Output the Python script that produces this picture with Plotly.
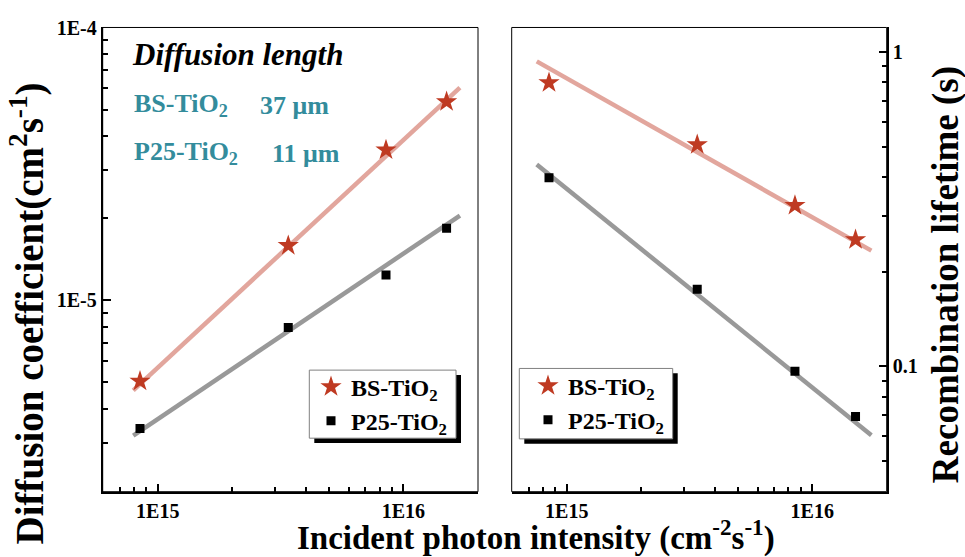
import plotly.graph_objects as go

W, H = 965, 557
FONT = "Liberation Serif"

# Incident photon intensity (cm^-2 s^-1)
intensity = [8.47e14, 3.40e15, 8.50e15, 1.50e16]

# Diffusion coefficient (cm^2 s^-1)
diff_bs = [5.05e-6, 1.59e-5, 3.57e-5, 5.36e-5]
diff_p25 = [3.39e-6, 7.95e-6, 1.24e-5, 1.84e-5]

# Recombination lifetime (s)
life_bs = [0.798, 0.507, 0.325, 0.253]
life_p25 = [0.398, 0.176, 0.0965, 0.0693]

# Power-law fit lines (end points)
fit_x_diff = [7.95e14, 1.70e16]
fit_diff_bs = [4.68e-6, 6.04e-5]
fit_diff_p25 = [3.19e-6, 2.05e-5]
fit_x_life = [7.55e14, 1.74e16]
fit_life_bs = [0.933, 0.2335]
fit_life_p25 = [0.4387, 0.0604]

series_names = ["BS-TiO<sub>2</sub>", "P25-TiO<sub>2</sub>"]
diffusion_lengths = ["37 μm", "11 μm"]

x_tick_vals = [1e15, 1e16]
x_tick_text = ["1E15", "1E16"]
yl_tick_vals = [1e-5, 1e-4]
yl_tick_text = ["1E-5", "1E-4"]
yr_tick_vals = [0.1, 1]
yr_tick_text = ["0.1", "1"]

STAR = "#bf3a22"
PINK = "#e2a69d"
GREY = "#999999"
TEAL = "#338c9c"


def px(x):
    return x / W


def py(y):
    return 1 - y / H


def minor_vals(exps):
    return [m * 10.0 ** e for e in exps for m in range(2, 10)]


fig = go.Figure()

# Left panel: diffusion coefficient
fig.add_trace(go.Scatter(x=fit_x_diff, y=fit_diff_bs, mode="lines",
                         line=dict(color=PINK, width=4.5), showlegend=False,
                         xaxis="x", yaxis="y"))
fig.add_trace(go.Scatter(x=fit_x_diff, y=fit_diff_p25, mode="lines",
                         line=dict(color=GREY, width=4.5), showlegend=False,
                         xaxis="x", yaxis="y"))
fig.add_trace(go.Scatter(x=intensity, y=diff_bs, mode="markers", name=series_names[0],
                         marker=dict(symbol="star", size=16, color=STAR,
                                     line=dict(width=0)),
                         xaxis="x", yaxis="y", legend="legend"))
fig.add_trace(go.Scatter(x=intensity, y=diff_p25, mode="markers", name=series_names[1],
                         marker=dict(symbol="square", size=9, color="black",
                                     line=dict(width=0)),
                         xaxis="x", yaxis="y", legend="legend"))

# Right panel: recombination lifetime
fig.add_trace(go.Scatter(x=fit_x_life, y=fit_life_bs, mode="lines",
                         line=dict(color=PINK, width=4.5), showlegend=False,
                         xaxis="x2", yaxis="y2"))
fig.add_trace(go.Scatter(x=fit_x_life, y=fit_life_p25, mode="lines",
                         line=dict(color=GREY, width=4.5), showlegend=False,
                         xaxis="x2", yaxis="y2"))
fig.add_trace(go.Scatter(x=intensity, y=life_bs, mode="markers", name=series_names[0],
                         marker=dict(symbol="star", size=16, color=STAR,
                                     line=dict(width=0)),
                         xaxis="x2", yaxis="y2", legend="legend2"))
fig.add_trace(go.Scatter(x=intensity, y=life_p25, mode="markers", name=series_names[1],
                         marker=dict(symbol="square", size=9, color="black",
                                     line=dict(width=0)),
                         xaxis="x2", yaxis="y2", legend="legend2"))

tick_font = dict(family=FONT, size=20, color="black", weight="bold")
y_dom = [py(490.5), py(17.8)]

common_axis = dict(type="log", showline=True, linecolor="black", linewidth=2,
                   ticks="inside", ticklen=8, tickwidth=2, tickcolor="black",
                   showgrid=False, zeroline=False, tickfont=tick_font,
                   tickmode="array")

x_minor = dict(ticks="inside", ticklen=5, tickwidth=1.5, tickcolor="black",
               tickmode="array", tickvals=minor_vals([14, 15, 16]), showgrid=False)

legend_font = dict(family=FONT, size=24, color="black", weight="bold")

fig.update_layout(
    width=W, height=H, autosize=False,
    margin=dict(l=0, r=0, t=0, b=0),
    plot_bgcolor="white", paper_bgcolor="white",
    xaxis=dict(common_axis, domain=[px(102.7), px(478)], range=[14.776, 16.304],
               tickvals=x_tick_vals, ticktext=x_tick_text, anchor="y", minor=x_minor),
    yaxis=dict(common_axis, domain=y_dom, range=[-5.702, -3.998],
               tickvals=yl_tick_vals, ticktext=yl_tick_text, anchor="x",
               minor=dict(x_minor, tickvals=minor_vals([-6, -5]))),
    xaxis2=dict(common_axis, domain=[px(511.7), px(886.7)], range=[14.776, 16.303],
                tickvals=x_tick_vals, ticktext=x_tick_text, anchor="y2", minor=x_minor),
    yaxis2=dict(common_axis, domain=y_dom, range=[-1.398, 0.0777], side="right",
                tickvals=yr_tick_vals, ticktext=yr_tick_text, anchor="x2",
                minor=dict(x_minor, tickvals=minor_vals([-2, -1]))),
    legend=dict(x=px(311), y=py(361), xanchor="left", yanchor="top",
                bgcolor="rgba(0,0,0,0)", borderwidth=0, font=legend_font,
                tracegroupgap=0),
    legend2=dict(x=px(528), y=py(360), xanchor="left", yanchor="top",
                 bgcolor="rgba(0,0,0,0)", borderwidth=0, font=legend_font,
                 tracegroupgap=0),
    showlegend=True,
)

# Thin frame on the untick'd sides of each panel
for xr, yr in (("x domain", "y domain"), ("x2 domain", "y2 domain")):
    fig.add_shape(type="rect", xref=xr, yref=yr, x0=0, x1=1, y0=0, y1=1,
                  line=dict(color="black", width=1), layer="above")

# Legend boxes with drop shadows
for (l, t, r, b) in ((309.3, 366.7, 456, 436), (519.3, 365, 672.7, 436.7)):
    fig.add_shape(type="rect", xref="paper", yref="paper",
                  x0=px(l + 5), x1=px(r + 5), y0=py(b + 5), y1=py(t + 5),
                  fillcolor="black", line=dict(width=0), layer="above")
    fig.add_shape(type="rect", xref="paper", yref="paper",
                  x0=px(l), x1=px(r), y0=py(b), y1=py(t),
                  fillcolor="white", line=dict(color="#808080", width=1), layer="above")

title_font = dict(family=FONT, size=33, color="black", weight="bold")
fig.add_annotation(text="Incident photon intensity (cm<sup>-2</sup>s<sup>-1</sup>)",
                   x=px(535.5), y=py(535), xref="paper", yref="paper",
                   showarrow=False, font=title_font, xanchor="center", yanchor="middle")
fig.add_annotation(text="Diffusion coefficient(cm<sup>2</sup>s<sup>-1</sup>)",
                   x=px(27), y=py(309), xref="paper", yref="paper", textangle=-90,
                   showarrow=False, font=dict(title_font, size=39),
                   xanchor="center", yanchor="middle")
fig.add_annotation(text="Recombination lifetime (s)",
                   x=px(946), y=py(270), xref="paper", yref="paper", textangle=-90,
                   showarrow=False, font=dict(title_font, size=37),
                   xanchor="center", yanchor="middle")

# Diffusion length summary
fig.add_annotation(text="Diffusion length", x=px(130), y=py(45), xref="paper", yref="paper",
                   showarrow=False, xanchor="left", yanchor="middle",
                   font=dict(family=FONT, size=31, color="black", weight="bold",
                             style="italic"))
for name, length, yc, xl in ((series_names[0], diffusion_lengths[0], 97, 258),
                             (series_names[1], diffusion_lengths[1], 146, 270)):
    fig.add_annotation(text=name, x=px(131.7), y=py(yc), xref="paper", yref="paper",
                       showarrow=False, xanchor="left", yanchor="middle",
                       font=dict(family=FONT, size=26, color=TEAL, weight="bold"))
    fig.add_annotation(text=length, x=px(xl), y=py(yc), xref="paper", yref="paper",
                       showarrow=False, xanchor="left", yanchor="middle",
                       font=dict(family=FONT, size=26, color=TEAL, weight="bold"))

fig.write_html("out.html")
